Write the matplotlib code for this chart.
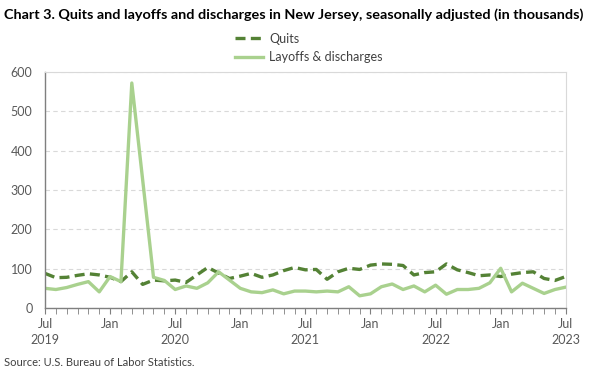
import numpy as np
import matplotlib.pyplot as plt

plt.rcParams['font.family'] = ['Lato', 'DejaVu Sans']

# monthly, Jul 2019 .. Jul 2023
quits = [88, 77, 78, 83, 87, 84, 78, 67, 92, 60, 71, 69,
         71, 65, 84, 103, 89, 75, 81, 88, 78, 84, 95, 103,
         97, 98, 73, 92, 101, 98, 109, 112, 111, 108, 84, 90,
         92, 112, 97, 90, 82, 84, 80, 86, 90, 92, 75, 70, 80]
layoffs = [50, 47, 52, 60, 67, 41, 80, 67, 572, 326, 78, 70,
           47, 56, 50, 64, 92, 71, 50, 41, 39, 46, 36, 43,
           43, 41, 43, 41, 54, 31, 36, 54, 61, 47, 56, 41,
           58, 35, 47, 47, 50, 64, 101, 41, 63, 50, 37, 47, 53]
month_names = ['Jul', 'Jan']
years = ['2019', '2020', '2021', '2022', '2023']

x = np.arange(len(quits))
fig = plt.figure(figsize=(6, 3.74), dpi=100)
ax = fig.add_axes([0.075, 0.1765, 0.868, 0.631])

ax.plot(x, quits, '--', color='#548235', linewidth=2.4, dashes=(3, 1.6), label='Quits')
ax.plot(x, layoffs, '-', color='#a9d18e', linewidth=2.4, label='Layoffs & discharges')

ax.set_xlim(0, len(quits) - 1)
ax.set_ylim(0, 600)
ax.set_yticks(range(0, 601, 100))
ax.yaxis.grid(True, linestyle=(0, (4, 3)), color='#d9d9d9', linewidth=0.8)
ax.set_axisbelow(True)

major = list(range(0, len(quits), 6))
labels = []
for k, m in enumerate(major):
    if k % 2 == 0:
        labels.append(month_names[0] + '\n' + years[k // 2])
    else:
        labels.append(month_names[1])
ax.set_xticks(major)
ax.set_xticklabels(labels, va='top', linespacing=1.45)
ax.set_xticks(x, minor=True)
ax.tick_params(axis='x', which='both', length=4, color='#7f7f7f', direction='out', pad=3,
               labelsize=9, labelcolor='#595959')
ax.tick_params(axis='y', length=0, labelsize=9, labelcolor='#595959', pad=9)

for s in ['top', 'right']:
    ax.spines[s].set_color('#d9d9d9')
    ax.spines[s].set_linewidth(0.8)
for s in ['left', 'bottom']:
    ax.spines[s].set_color('#7f7f7f')
    ax.spines[s].set_linewidth(1.0)

leg = fig.legend(loc='upper center', bbox_to_anchor=(0.515, 0.943), ncol=1, frameon=False,
                 fontsize=9, handlelength=2.2, handletextpad=0.5, labelspacing=0.55)
for t in leg.get_texts():
    t.set_color('#404040')

fig.text(0.007, 0.962, 'Chart 3. Quits and layoffs and discharges in New Jersey, seasonally adjusted (in thousands)',
         fontsize=10.35, fontweight='bold', va='center', ha='left', color='#000000')
fig.text(0.007, 0.03, 'Source: U.S. Bureau of Labor Statistics.', fontsize=8, color='#404040',
         va='center', ha='left')

fig.savefig('out.png', dpi=100)
